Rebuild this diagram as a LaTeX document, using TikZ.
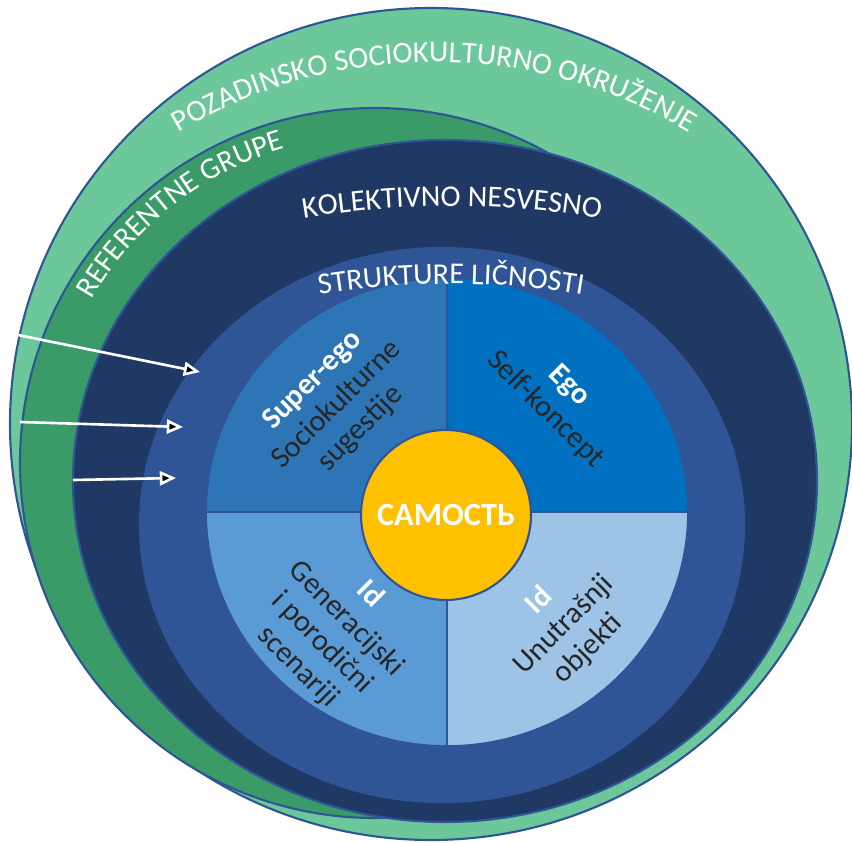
\documentclass[tikz,border=0pt]{standalone}
\usepackage{fontspec}
\setmainfont{Carlito}
\usetikzlibrary{arrows.meta,decorations.text}

\definecolor{envgreen}{RGB}{108,200,154}
\definecolor{groupgreen}{RGB}{58,154,104}
\definecolor{collnavy}{RGB}{32,56,100}
\definecolor{structblue}{RGB}{47,85,151}
\definecolor{superblue}{RGB}{46,117,182}
\definecolor{egoblue}{RGB}{0,112,192}
\definecolor{idblue}{RGB}{91,155,213}
\definecolor{idlight}{RGB}{157,195,230}
\definecolor{selfyellow}{RGB}{255,192,0}
\definecolor{edgeblue}{RGB}{47,85,151}
\definecolor{textdark}{RGB}{38,38,38}

\newcommand{\ringfont}{\fontsize{8.6}{10}\selectfont}
\newcommand{\qhead}[1]{{\color{white}\bfseries #1}}

\tikzset{
    % Define layer and label styles
    layer/.style={
        draw=edgeblue, line width=0.6pt
    },
    quadrant/.style={
        draw=edgeblue, line width=0.5pt
    },
    ringlabel/.style={
        decorate, decoration={text along path, text align=center, text color=white}
    },
    quadtext/.style={
        text=textdark, align=center, inner sep=0pt,
        font=\fontsize{8.6}{9.7}\selectfont
    },
    selfnode/.style={
        circle, fill=selfyellow, draw=edgeblue, line width=0.6pt,
        minimum size=1.7cm, text=white,
        font=\fontsize{9.2}{10}\selectfont\bfseries
    },
    influence/.style={
        -{Triangle[length=4.6pt,width=4pt]}, draw=white, line width=0.75pt
    }
}

\begin{document}
\begin{tikzpicture}

\useasboundingbox (0,0) rectangle (8.52,8.42);

% Layer centres
\coordinate (envc) at (4.31,4.18);
\coordinate (grpc) at (3.75,3.79);
\coordinate (colc) at (4.45,3.61);
\coordinate (strc) at (4.42,3.17);
\coordinate (pc) at (4.47,3.30);

% Nested layers
\filldraw[layer, fill=envgreen] (envc) ellipse[x radius=4.21cm, y radius=4.16cm];
\filldraw[layer, fill=groupgreen] (grpc) circle[radius=3.55cm];
\filldraw[layer, fill=collnavy] (colc) ellipse[x radius=3.72cm, y radius=3.41cm];
\filldraw[layer, fill=structblue] (strc) ellipse[x radius=3.02cm, y radius=2.77cm];

% Personality structures
\filldraw[quadrant, fill=superblue] (pc) -- ([yshift=2.34cm]pc) arc[start angle=90, end angle=180, x radius=2.41cm, y radius=2.34cm] -- cycle;
\filldraw[quadrant, fill=egoblue] (pc) -- ([xshift=2.41cm]pc) arc[start angle=0, end angle=90, x radius=2.41cm, y radius=2.34cm] -- cycle;
\filldraw[quadrant, fill=idblue] (pc) -- ([xshift=-2.41cm]pc) arc[start angle=180, end angle=270, x radius=2.41cm, y radius=2.34cm] -- cycle;
\filldraw[quadrant, fill=idlight] (pc) -- ([yshift=-2.34cm]pc) arc[start angle=270, end angle=360, x radius=2.41cm, y radius=2.34cm] -- cycle;

% Ring labels
\coordinate (envtxt) at (4.34,2.83);
\coordinate (coltxt) at (4.52,-2.64);
\coordinate (strtxt) at (4.51,-2.42);
\path[ringlabel, decoration={text={|\ringfont|POZADINSKO SOCIOKULTURNO OKRUŽENJE}}]
    (envtxt) ++(130:4.97) arc[start angle=130, end angle=50, radius=4.97cm];
\path[ringlabel, decoration={text={|\ringfont|REFERENTNE GRUPE}}]
    (grpc) ++(159:3.27) arc[start angle=159, end angle=97, radius=3.27cm];
\path[ringlabel, decoration={text={|\ringfont|KOLEKTIVNO NESVESNO}}]
    (coltxt) ++(104:9) arc[start angle=104, end angle=76, radius=9cm];
\path[ringlabel, decoration={text={|\ringfont|STRUKTURE LIČNOSTI}}]
    (strtxt) ++(104:8) arc[start angle=104, end angle=76, radius=8cm];

% Quadrant texts
\node[quadtext, rotate=45] (superego) at (3.37,4.37) {\qhead{Super-ego}\\Sociokulturne\\sugestije};
\node[quadtext, rotate=-45] (ego) at (5.57,4.44) {\qhead{Ego}\\Self-koncept};
\node[quadtext, rotate=-45] (idgen) at (3.34,2.11) {\qhead{Id}\\Generacijski\\i porodični\\scenariji};
\node[quadtext, rotate=45] (idobj) at (5.64,2.17) {\qhead{Id}\\Unutrašnji\\objekti};

% Self
\node[selfnode] (self) at (4.46,3.27) {САМОСТЬ};

% Influences
\coordinate (envsrc) at (0.18,5.07);
\coordinate (envdst) at (2.00,4.70);
\coordinate (grpsrc) at (0.20,4.20);
\coordinate (grpdst) at (1.83,4.15);
\coordinate (colsrc) at (0.73,3.62);
\coordinate (coldst) at (1.76,3.64);
\draw[influence] (envsrc) -- (envdst);
\draw[influence] (grpsrc) -- (grpdst);
\draw[influence] (colsrc) -- (coldst);

\end{tikzpicture}
\end{document}
